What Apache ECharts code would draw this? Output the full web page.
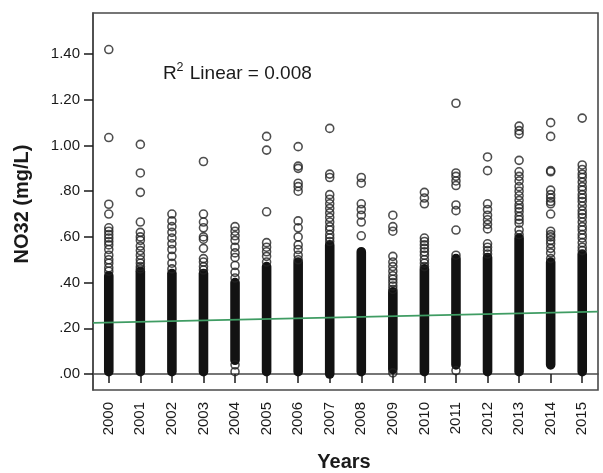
<!DOCTYPE html>
<html>
<head>
<meta charset="utf-8">
<title>NO32 by year</title>
<script src="https://cdn.jsdelivr.net/npm/echarts@6/dist/echarts.min.js"></script>
<style>
  html, body { margin: 0; padding: 0; background: #fff; }
  #chart { width: 603px; height: 473px; }
</style>
</head>
<body>
<div id="chart"></div>
<script>
// Sampling years (x axis categories, plotted on a numeric scale)
const years = [2000, 2001, 2002, 2003, 2004, 2005, 2006, 2007,
               2008, 2009, 2010, 2011, 2012, 2013, 2014, 2015];

// Range of each year's densely packed observations (mg/L)
const denseLow  = [0.01, 0.01, 0.01, 0.01, 0.06, 0.01, 0.01, 0.00,
                   0.01, 0.02, 0.01, 0.04, 0.01, 0.01, 0.04, 0.01];
const denseHigh = [0.43, 0.45, 0.44, 0.44, 0.40, 0.47, 0.49, 0.565,
                   0.535, 0.36, 0.46, 0.505, 0.51, 0.595, 0.49, 0.525];

// Individually visible observations per year (mg/L)
const sparse2000 = [1.42, 1.035, 0.743, 0.70, 0.64, 0.625, 0.61, 0.595, 0.58, 0.565, 0.545, 0.52, 0.50, 0.485, 0.465, 0.45];
const sparse2001 = [1.005, 0.88, 0.795, 0.665, 0.62, 0.60, 0.585, 0.56, 0.54, 0.52, 0.50, 0.485, 0.47, 0.46];
const sparse2002 = [0.70, 0.67, 0.645, 0.62, 0.595, 0.57, 0.545, 0.515, 0.485, 0.46];
const sparse2003 = [0.93, 0.70, 0.665, 0.64, 0.60, 0.59, 0.55, 0.505, 0.49, 0.47, 0.455];
const sparse2004 = [0.645, 0.625, 0.605, 0.585, 0.555, 0.53, 0.51, 0.475, 0.445, 0.42, 0.04, 0.01];
const sparse2005 = [1.04, 0.98, 0.71, 0.575, 0.555, 0.535, 0.515, 0.49];
const sparse2006 = [0.995, 0.91, 0.90, 0.835, 0.82, 0.80, 0.67, 0.64, 0.60, 0.565, 0.545, 0.52, 0.50];
const sparse2007 = [1.075, 0.875, 0.86, 0.785, 0.765, 0.745, 0.725, 0.705, 0.685, 0.665, 0.645, 0.63, 0.61, 0.595, 0.58];
const sparse2008 = [0.86, 0.835, 0.745, 0.72, 0.695, 0.665, 0.605];
const sparse2009 = [0.695, 0.645, 0.625, 0.515, 0.49, 0.47, 0.45, 0.43, 0.415, 0.40, 0.385, 0.37, 0.005];
const sparse2010 = [0.795, 0.77, 0.745, 0.595, 0.58, 0.565, 0.55, 0.535, 0.52, 0.50, 0.485, 0.47];
const sparse2011 = [1.185, 0.88, 0.865, 0.845, 0.825, 0.74, 0.715, 0.63, 0.52, 0.015];
const sparse2012 = [0.95, 0.89, 0.745, 0.72, 0.695, 0.675, 0.655, 0.635, 0.57, 0.555, 0.54, 0.525];
const sparse2013 = [1.085, 1.065, 1.05, 0.935, 0.885, 0.865, 0.845, 0.82, 0.80, 0.78, 0.76, 0.74, 0.725, 0.71, 0.69, 0.675, 0.66, 0.63, 0.61];
const sparse2014 = [1.10, 1.04, 0.89, 0.885, 0.805, 0.785, 0.77, 0.755, 0.745, 0.70, 0.625, 0.61, 0.60, 0.585, 0.57, 0.55, 0.53, 0.505];
const sparse2015 = [1.12, 0.915, 0.895, 0.875, 0.86, 0.84, 0.82, 0.805, 0.785, 0.77, 0.755, 0.735, 0.715, 0.70, 0.685, 0.665, 0.645, 0.63, 0.61, 0.595, 0.575, 0.555, 0.54];

const sparseByYear = [sparse2000, sparse2001, sparse2002, sparse2003, sparse2004, sparse2005,
                      sparse2006, sparse2007, sparse2008, sparse2009, sparse2010, sparse2011,
                      sparse2012, sparse2013, sparse2014, sparse2015];

// Linear fit line end points (R² = 0.008)
const fitX = [1999.5, 2015.5];
const fitY = [0.224, 0.273];

// Axis tick values
const yTicks = [0, 0.2, 0.4, 0.6, 0.8, 1.0, 1.2, 1.4];
const xTicks = years;

const FONT = '"Liberation Sans", Arial, sans-serif';
const INK = '#1a1a1a';
const FRAME = '#4a4a4a';

const denseData = years.map((y, i) => [y, denseLow[i], denseHigh[i]]);
const pointData = [];
years.forEach((y, i) => sparseByYear[i].forEach(v => pointData.push([y, v])));
const fitData = fitX.map((x, i) => [x, fitY[i]]);

const SYM = 8;
const SYM_BORDER = 1.6;

const chart = echarts.init(document.getElementById('chart'), null, { renderer: 'canvas' });

chart.setOption({
  animation: false,
  backgroundColor: '#fff',
  grid: {
    left: 93, right: 5, top: 13, bottom: 83,
    show: true, borderColor: FRAME, borderWidth: 1.6, backgroundColor: '#fff'
  },
  xAxis: {
    type: 'value',
    min: 1999.5, max: 2015.5,
    splitLine: { show: false },
    axisLine: { show: true, lineStyle: { color: FRAME, width: 1.6 } },
    axisTick: { show: true, customValues: xTicks, length: 9, inside: false,
                lineStyle: { color: INK, width: 1.5 } },
    axisLabel: {
      customValues: xTicks, rotate: 90, margin: 12,
      color: INK, fontFamily: FONT, fontSize: 15,
      formatter: v => String(Math.round(v))
    }
  },
  yAxis: {
    type: 'value',
    min: -0.07, max: 1.58,
    splitLine: { show: false },
    axisLine: { show: true, lineStyle: { color: FRAME, width: 1.6 } },
    axisTick: { show: true, customValues: yTicks, length: 9, inside: false,
                lineStyle: { color: INK, width: 1.5 } },
    axisLabel: {
      customValues: yTicks, margin: 13,
      color: INK, fontFamily: FONT, fontSize: 15,
      formatter: v => {
        const s = v.toFixed(2);
        return v < 1 ? s.replace(/^0/, '') : s;
      }
    }
  },
  series: [
    {
      // tightly packed observations, drawn as a continuous stack of circles
      type: 'custom',
      z: 2,
      data: denseData,
      renderItem: (params, api) => {
        const x = api.value(0);
        const top = api.coord([x, api.value(2)]);
        const bot = api.coord([x, api.value(1)]);
        const w = SYM + SYM_BORDER;
        return {
          type: 'rect',
          shape: { x: top[0] - w / 2, y: top[1] - w / 2, width: w, height: bot[1] - top[1] + w, r: w / 2 },
          style: { fill: '#121212' }
        };
      }
    },
    {
      type: 'scatter',
      z: 3,
      data: pointData,
      symbol: 'circle',
      symbolSize: SYM,
      itemStyle: { color: 'rgba(255,255,255,0)', borderColor: '#222', borderWidth: SYM_BORDER }
    },
    {
      type: 'line',
      z: 4,
      data: fitData,
      symbol: 'none',
      lineStyle: { color: '#3f9c63', width: 1.6 }
    }
  ],
  graphic: [
    { type: 'text', left: 163, top: 64, style: { text: 'R', font: '19px ' + FONT, fill: INK } },
    { type: 'text', left: 176.5, top: 61, style: { text: '2', font: '12.5px ' + FONT, fill: INK } },
    { type: 'text', left: 184.5, top: 64, style: { text: ' Linear = 0.008', font: '19px ' + FONT, fill: INK } },
    {
      type: 'text', x: 22, y: 204, rotation: Math.PI / 2,
      style: { text: 'NO32 (mg/L)', font: 'bold 20px ' + FONT, fill: INK, align: 'center', verticalAlign: 'middle' }
    },
    {
      type: 'text', x: 344, y: 462,
      style: { text: 'Years', font: 'bold 20px ' + FONT, fill: INK, align: 'center', verticalAlign: 'middle' }
    }
  ]
});
</script>
</body>
</html>
